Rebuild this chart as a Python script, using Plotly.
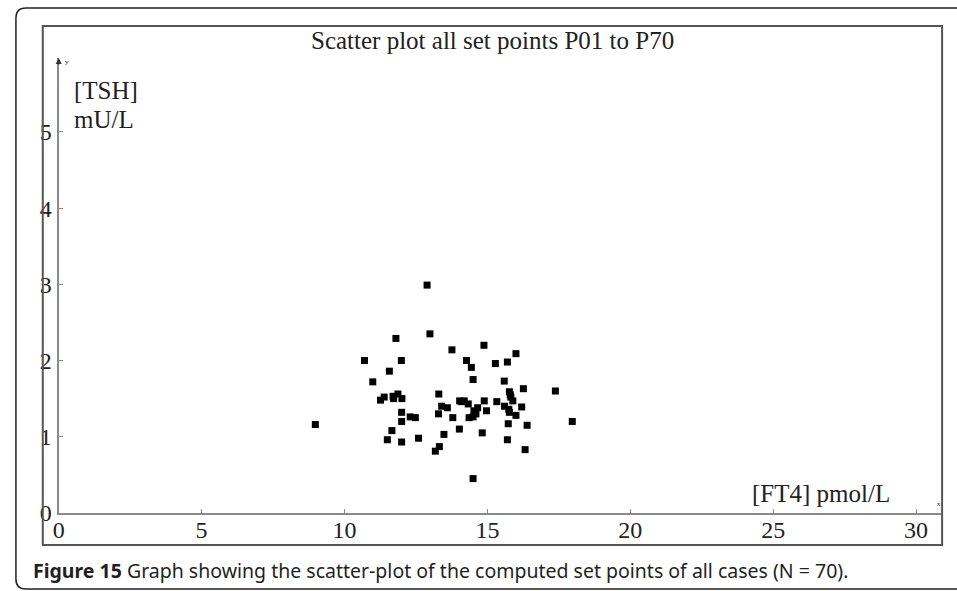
import plotly.graph_objects as go

# FT4 (pmol/L) and TSH (mU/L) set points
ft4 = [12.89, 11.80, 12.99, 14.88, 13.76, 16.00, 10.70, 11.99, 14.27, 15.70,
       15.28, 14.44, 11.57, 10.99, 14.50, 15.59, 16.26, 17.38, 15.77, 13.30,
       11.26, 11.39, 11.72, 11.87, 12.01, 15.82, 14.03, 14.19, 14.89, 15.33,
       15.89, 14.33, 13.40, 13.60, 15.60, 16.20, 14.66, 14.97, 14.53, 15.77,
       12.00, 14.60, 13.29, 16.00, 13.79, 14.36, 12.30, 12.48, 12.00, 8.98,
       17.97, 15.73, 16.39, 11.66, 14.02, 14.82, 13.48, 11.50, 12.00, 12.59,
       15.70, 13.32, 13.18, 16.32, 14.50, 14.50, 15.80, 14.10, 11.70, 15.75]
tsh = [2.99, 2.29, 2.35, 2.20, 2.14, 2.09, 2.00, 2.00, 2.00, 1.98,
       1.96, 1.91, 1.86, 1.72, 1.75, 1.73, 1.63, 1.60, 1.59, 1.56,
       1.48, 1.52, 1.50, 1.56, 1.50, 1.52, 1.47, 1.47, 1.47, 1.46,
       1.47, 1.43, 1.40, 1.38, 1.40, 1.39, 1.38, 1.34, 1.34, 1.32,
       1.32, 1.30, 1.30, 1.28, 1.25, 1.25, 1.26, 1.25, 1.20, 1.16,
       1.20, 1.17, 1.15, 1.08, 1.10, 1.05, 1.03, 0.96, 0.93, 0.98,
       0.96, 0.87, 0.81, 0.83, 0.45, 1.26, 1.55, 1.46, 1.53, 1.36]

x_ticks = [0, 5, 10, 15, 20, 25, 30]
y_ticks = [0, 1, 2, 3, 4, 5]
x_max = 30.91
y_max = 5.97

W, H = 957, 591          # reference picture size (layout coordinates below)
FIG_H = 605              # figure height that fills the captured window
SERIF = "Liberation Serif, Times New Roman, serif"
AXC = "#8a8a8a"


def px(x):
    return x / W


def py(y):
    return 1 - y / H


fig = go.Figure()
fig.add_trace(go.Scatter(
    x=ft4, y=tsh, mode="markers",
    marker=dict(symbol="square", size=7, color="black", line=dict(width=0)),
    hoverinfo="x+y", showlegend=False,
))

fig.update_layout(
    width=W, height=FIG_H, autosize=False,
    margin=dict(l=0, r=0, t=0, b=0),
    paper_bgcolor="white", plot_bgcolor="white",
    font=dict(family=SERIF, size=24, color="#222"),
    xaxis=dict(
        domain=[px(53), px(942)], range=[0, x_max],
        tickvals=x_ticks, ticktext=[str(v) for v in x_ticks],
        showgrid=False, zeroline=False, showline=True, linecolor=AXC, linewidth=2,
        ticks="inside", ticklen=4, tickcolor=AXC, tickwidth=1,
        tickfont=dict(family=SERIF, size=24, color="#222"),
        ticklabelstandoff=-6,
        anchor="y",
    ),
    yaxis=dict(
        domain=[py(512), py(58)], range=[0, y_max],
        tickvals=y_ticks, ticktext=[str(v) for v in y_ticks],
        showgrid=False, zeroline=False, showline=True, linecolor=AXC, linewidth=2,
        ticks="inside", ticklen=4, tickcolor=AXC, tickwidth=1,
        tickfont=dict(family=SERIF, size=24, color="#222"),
        anchor="x",
    ),
)

# outer rounded frame and inner chart frame
r = 10
x0, y0, y1 = 10, 8, 588
outer = (f"M {px(W)} {py(y0)} L {px(x0 + r)} {py(y0)} "
         f"Q {px(x0)} {py(y0)} {px(x0)} {py(y0 + r)} "
         f"L {px(x0)} {py(y1 - r)} Q {px(x0)} {py(y1)} {px(x0 + r)} {py(y1)} "
         f"L {px(W)} {py(y1)}")
fig.add_shape(type="path", xref="paper", yref="paper", path=outer,
              line=dict(color="#222", width=1.5))
fig.add_shape(type="rect", xref="paper", yref="paper",
              x0=px(37), x1=px(942), y0=py(544), y1=py(26),
              line=dict(color="#555", width=2))

# texts
fig.add_annotation(xref="paper", yref="paper", x=px(490), y=py(40),
                   text="Scatter plot all set points P01 to P70", showarrow=False,
                   xanchor="center", yanchor="middle",
                   font=dict(family=SERIF, size=25, color="#222"))
fig.add_annotation(xref="paper", yref="paper", x=px(66), y=py(90),
                   text="[TSH]", showarrow=False, xanchor="left", yanchor="middle",
                   font=dict(family=SERIF, size=25, color="#222"))
fig.add_annotation(xref="paper", yref="paper", x=px(66), y=py(119),
                   text="mU/L", showarrow=False, xanchor="left", yanchor="middle",
                   font=dict(family=SERIF, size=25, color="#222"))
fig.add_annotation(xref="paper", yref="paper", x=px(892), y=py(493),
                   text="[FT4] pmol/L", showarrow=False, xanchor="right", yanchor="middle",
                   font=dict(family=SERIF, size=25, color="#222"))
fig.add_annotation(xref="paper", yref="paper", x=px(61), y=py(62),
                   text="y", showarrow=False, xanchor="center", yanchor="middle",
                   font=dict(family=SERIF, size=7, color="#222"))
fig.add_annotation(xref="paper", yref="paper", x=px(939), y=py(503),
                   text="x", showarrow=False, xanchor="center", yanchor="middle",
                   font=dict(family=SERIF, size=7, color="#222"))
# arrow head at the top of the y axis
fig.add_annotation(x=0, y=y_max, xref="x", yref="y", ax=0, ay=8,
                   showarrow=True, arrowhead=2, arrowsize=0.8, arrowwidth=1.5,
                   arrowcolor="#333", text="")
# caption
fig.add_annotation(xref="paper", yref="paper", x=px(25), y=py(570),
                   text="<b>Figure 15</b> Graph showing the scatter-plot of the computed set points of all cases (N = 70).",
                   showarrow=False, xanchor="left", yanchor="middle",
                   font=dict(family="Noto Sans, Open Sans, sans-serif", size=19.5, color="#231f20"))

fig.write_html("out.html", config={"displayModeBar": False, "responsive": False})

css = "<style>html,body{margin:0;padding:0;overflow:hidden;}</style>"
with open("out.html", encoding="utf-8") as f:
    html = f.read()
html = html.replace("<head>", "<head>" + css, 1)
with open("out.html", "w", encoding="utf-8") as f:
    f.write(html)
